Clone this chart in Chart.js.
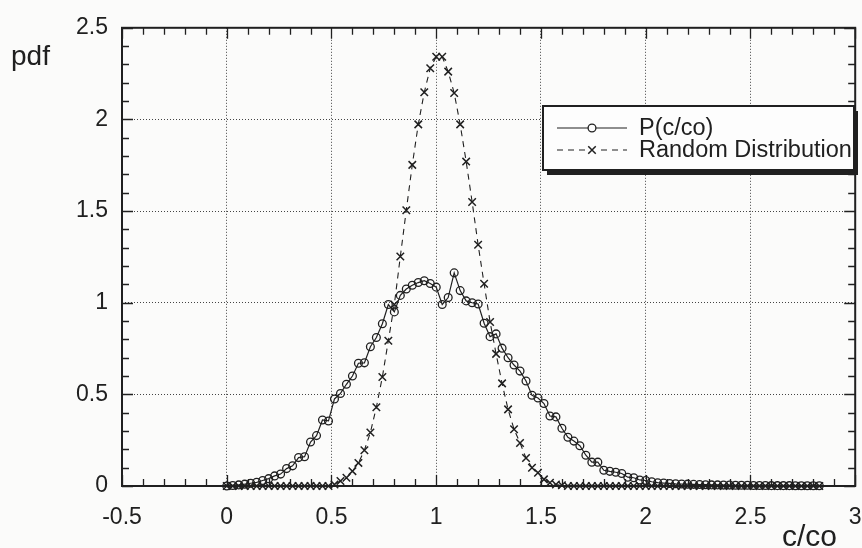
<!DOCTYPE html>
<html>
<head>
<meta charset="utf-8">
<title>pdf c/co</title>
<script src="https://cdn.jsdelivr.net/npm/chart.js"></script>
<style>
  html, body { margin: 0; padding: 0; background: #fbfbfa; }
  #wrap { width: 862px; height: 548px; }
</style>
</head>
<body>
<div id="wrap"><canvas id="grafico" width="862" height="548"></canvas></div>
<script>
// ---------- dados ----------
// centros dos bins em c/co (largura 1/35, de 0 até ~2.83)
const binWidth = 1 / 35;
const cBins = Array.from({ length: 100 }, (_, i) => +(i * binWidth).toFixed(4));

// P(c/co) medido
const pCurve = [
  0.000, 0.003, 0.006, 0.010, 0.015, 0.020, 0.030, 0.040, 0.055, 0.065,
  0.095, 0.110, 0.155, 0.160, 0.240, 0.275, 0.360, 0.355, 0.475, 0.505,
  0.555, 0.600, 0.670, 0.672, 0.760, 0.810, 0.885, 0.990, 0.950, 1.040,
  1.075, 1.095, 1.110, 1.120, 1.105, 1.085, 0.990, 1.028, 1.163, 1.066,
  1.010, 1.000, 0.993, 0.888, 0.815, 0.830, 0.752, 0.700, 0.660, 0.627,
  0.573, 0.495, 0.480, 0.450, 0.382, 0.377, 0.315, 0.266, 0.245, 0.220,
  0.168, 0.130, 0.130, 0.086, 0.080, 0.075, 0.068, 0.048, 0.045, 0.033,
  0.030, 0.023, 0.018, 0.016, 0.014, 0.012, 0.011, 0.010, 0.009, 0.008,
  0.007, 0.006, 0.006, 0.005, 0.005, 0.004, 0.004, 0.004, 0.003, 0.003,
  0.003, 0.002, 0.002, 0.002, 0.002, 0.001, 0.001, 0.001, 0.001, 0.001
];

// distribuição aleatória de referência
const randomDist = [
  0, 0, 0, 0, 0, 0, 0, 0, 0, 0,
  0, 0, 0, 0, 0, 0, 0, 0, 0.008, 0.027,
  0.045, 0.081, 0.126, 0.195, 0.292, 0.430, 0.595, 0.793, 0.990, 1.252,
  1.505, 1.752, 1.973, 2.148, 2.279, 2.342, 2.342, 2.261, 2.144, 1.973,
  1.770, 1.550, 1.316, 1.103, 0.895, 0.721, 0.560, 0.418, 0.310, 0.235,
  0.153, 0.100, 0.072, 0.036, 0.018, 0.008, 0.004, 0, 0, 0,
  0, 0, 0, 0, 0, 0, 0, 0, 0, 0,
  0, 0, 0, 0, 0, 0, 0, 0, 0, 0,
  0, 0, 0, 0, 0, 0, 0, 0, 0, 0,
  0, 0, 0, 0, 0, 0, 0, 0, 0, 0
];

const seriesLabels = ["P(c/co)", "Random Distribution"];
const xTicks = [-0.5, 0, 0.5, 1, 1.5, 2, 2.5, 3];
const yTicks = [0, 0.5, 1, 1.5, 2, 2.5];
const xTitle = "c/co";
const yTitle = "pdf";

// ---------- estilo ----------
const INK = "#202020";
const FONT = "'Liberation Sans', Arial, Helvetica, sans-serif";
const minorStep = 0.1;

const toPoints = (ys) => ys.map((v, i) => ({ x: cBins[i], y: v }));

// moldura com ticks para dentro nos quatro lados
const frame = {
  id: "frame",
  beforeDatasetsDraw(chart) {
    const { ctx, chartArea: a, scales: { x, y } } = chart;
    ctx.save();
    ctx.strokeStyle = INK;
    ctx.lineWidth = 2;
    ctx.strokeRect(a.left, a.top, a.right - a.left, a.bottom - a.top);
    ctx.lineWidth = 1.3;
    ctx.beginPath();
    const nx = Math.round((x.max - x.min) / minorStep);
    for (let k = 0; k <= nx; k++) {
      const v = x.min + k * minorStep;
      const px = Math.round(x.getPixelForValue(v)) + 0.5;
      const len = k % 5 === 0 ? 11 : 7;
      ctx.moveTo(px, a.bottom); ctx.lineTo(px, a.bottom - len);
      ctx.moveTo(px, a.top); ctx.lineTo(px, a.top + len);
    }
    const ny = Math.round((y.max - y.min) / minorStep);
    for (let k = 0; k <= ny; k++) {
      const v = y.min + k * minorStep;
      const py = Math.round(y.getPixelForValue(v)) + 0.5;
      const len = k % 5 === 0 ? 11 : 7;
      ctx.moveTo(a.left, py); ctx.lineTo(a.left + len, py);
      ctx.moveTo(a.right, py); ctx.lineTo(a.right - len, py);
    }
    ctx.stroke();
    ctx.restore();
  },
  afterDraw(chart) {
    const { ctx, data } = chart;
    ctx.save();
    ctx.fillStyle = INK;
    // títulos dos eixos
    ctx.font = "28px " + FONT;
    ctx.textBaseline = "alphabetic";
    ctx.textAlign = "left";
    ctx.fillText(yTitle, 11, 65);
    ctx.font = "30px " + FONT;
    ctx.fillText(xTitle, 782, 546);

    // legenda com sombra
    const bx = 543, by = 106, bw = 311, bh = 64;
    ctx.fillStyle = INK;
    ctx.fillRect(bx + 4, by + 5, bw, bh);
    ctx.fillStyle = "#fdfdfd";
    ctx.fillRect(bx, by, bw, bh);
    ctx.strokeStyle = INK;
    ctx.lineWidth = 2;
    ctx.strokeRect(bx, by, bw, bh);

    ctx.font = "23.5px " + FONT;
    ctx.textBaseline = "middle";
    data.datasets.forEach((ds, i) => {
      const ry = by + 22 + i * 22;
      const x0 = bx + 14, x1 = bx + 84, cx = (x0 + x1) / 2;
      ctx.strokeStyle = INK;
      ctx.lineWidth = ds.borderWidth;
      ctx.setLineDash(ds.borderDash || []);
      ctx.beginPath();
      ctx.moveTo(x0, ry); ctx.lineTo(x1, ry);
      ctx.stroke();
      ctx.setLineDash([]);
      // marcador no meio da amostra
      ctx.fillStyle = "#fdfdfd";
      ctx.lineWidth = ds.pointBorderWidth;
      ctx.beginPath();
      if (ds.pointStyle === "circle") {
        ctx.arc(cx, ry, ds.pointRadius, 0, Math.PI * 2);
        ctx.fill();
        ctx.stroke();
      } else {
        const d = ds.pointRadius * Math.SQRT1_2;
        ctx.fillRect(cx - d - 1, ry - d - 1, 2 * d + 2, 2 * d + 2);
        ctx.moveTo(cx - d, ry - d); ctx.lineTo(cx + d, ry + d);
        ctx.moveTo(cx + d, ry - d); ctx.lineTo(cx - d, ry + d);
        ctx.stroke();
      }
      ctx.fillStyle = INK;
      ctx.fillText(ds.label, bx + 96, ry + 1);
    });
    ctx.restore();
  }
};

const gridAt = (ticks) => (c) =>
  c.tick && ticks.includes(+c.tick.value.toFixed(3)) ? "#444" : "rgba(0,0,0,0)";

new Chart(document.getElementById("grafico"), {
  type: "line",
  data: {
    datasets: [
      {
        label: seriesLabels[0],
        data: toPoints(pCurve),
        borderColor: INK,
        borderWidth: 1.2,
        pointStyle: "circle",
        pointRadius: 3.9,
        pointBorderWidth: 1.3,
        pointBorderColor: INK,
        pointBackgroundColor: "rgba(0,0,0,0)",
        tension: 0,
        clip: 8
      },
      {
        label: seriesLabels[1],
        data: toPoints(randomDist),
        borderColor: INK,
        borderWidth: 1.1,
        borderDash: [6, 5],
        pointStyle: "crossRot",
        pointRadius: 5.3,
        pointBorderWidth: 1.5,
        pointBorderColor: INK,
        tension: 0,
        clip: 8
      }
    ]
  },
  options: {
    responsive: false,
    animation: false,
    events: [],
    layout: { padding: { top: 24, right: 5, left: 0, bottom: 0 } },
    plugins: { legend: { display: false }, tooltip: { enabled: false } },
    scales: {
      x: {
        type: "linear",
        min: -0.5,
        max: 3,
        afterBuildTicks: (s) => { s.ticks = xTicks.map((v) => ({ value: v })); },
        afterFit: (s) => { s.height = 62; s.paddingLeft = 0; s.paddingRight = 0; },
        ticks: {
          color: INK,
          padding: 18,
          font: { family: FONT, size: 23 },
          callback: (v) => String(v)
        },
        grid: { drawTicks: false, lineWidth: 1, color: gridAt(xTicks) },
        border: { display: false, dash: [1, 2] }
      },
      y: {
        type: "linear",
        min: 0,
        max: 2.5,
        afterBuildTicks: (s) => { s.ticks = yTicks.map((v) => ({ value: v })); },
        afterFit: (s) => { s.width = 122; },
        ticks: {
          color: INK,
          padding: 14,
          font: { family: FONT, size: 23 },
          callback: (v) => String(v)
        },
        grid: { drawTicks: false, lineWidth: 1, color: gridAt(yTicks) },
        border: { display: false, dash: [1, 2] }
      }
    }
  },
  plugins: [frame]
});
</script>
</body>
</html>
